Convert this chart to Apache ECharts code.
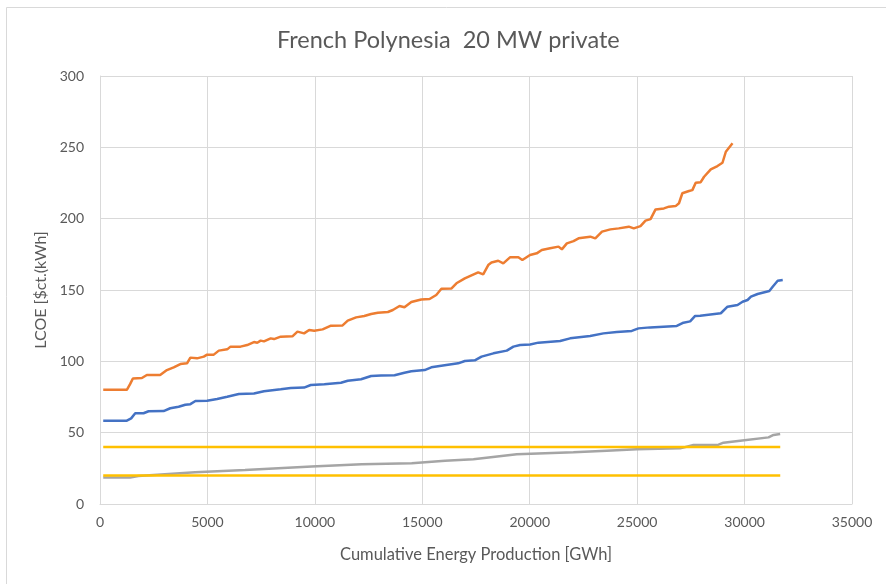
<!DOCTYPE html>
<html>
<head>
<meta charset="utf-8">
<script src="https://cdn.jsdelivr.net/npm/echarts@6/dist/echarts.min.js"></script>
<style>
  html, body { margin: 0; padding: 0; background: #fff; }
  #main { width: 886px; height: 584px; }
</style>
</head>
<body>
<div id="main"></div>
<script>
// values: [GWh, $ct/kWh]
var orangeData = [[150,80],[1250,80],[1400,84],[1530,88],[1950,88.3],[2180,90.4],[2800,90.4],[3115,93.9],[3430,95.8],[3740,98.1],[4050,98.6],[4206,102.6],[4517,102.1],[4830,103.3],[4985,104.7],[5296,104.7],[5530,107.5],[5920,108.4],[6075,110.3],[6540,110.3],[6850,111.4],[7165,113.5],[7320,113],[7477,114.5],[7630,114],[7944,116.1],[8100,115.6],[8410,117.3],[8956,117.5],[9190,120.8],[9500,119.6],[9735,122],[9970,121.5],[10360,122.4],[10750,125],[11290,125.2],[11530,128.5],[11920,130.8],[12300,131.8],[12620,133.2],[12930,134.1],[13400,134.6],[13630,136],[13940,138.8],[14170,137.9],[14490,141.6],[14950,143.4],[15340,143.7],[15650,146.5],[15890,150.9],[16350,151],[16590,154.7],[16980,158.2],[17600,162.4],[17835,161],[18070,167.5],[18220,169.3],[18536,170.5],[18769,168.7],[19081,172.9],[19470,172.9],[19657,171],[20015,174.5],[20327,175.7],[20561,178],[20950,179.2],[21340,180.4],[21495,178.5],[21729,182.7],[22040,184.3],[22274,186.2],[22819,187.4],[23053,186.2],[23364,190.9],[23754,192.5],[24143,193.2],[24611,194.4],[24844,193.2],[25156,194.8],[25389,198.6],[25623,199.7],[25857,206.5],[26246,207.2],[26480,208.4],[26791,208.8],[26947,210.8],[27103,217.8],[27414,219.4],[27570,220],[27726,225.2],[27959,225.6],[28115,229.4],[28427,234.6],[28738,236.9],[28972,239.2],[29128,246.9],[29439,252.8]];
var blueData = [[150,58.4],[1250,58.4],[1450,60],[1640,63.6],[2025,63.6],[2260,65],[2960,65.1],[3270,67.1],[3660,68.2],[3970,69.6],[4206,70],[4440,72.2],[4985,72.4],[5450,73.6],[5920,75.2],[6460,77.1],[7165,77.4],[7630,79],[8410,80.4],[8880,81.3],[9500,81.6],[9810,83.4],[10440,83.9],[11215,85],[11530,86.4],[12150,87.4],[12620,89.7],[13080,90],[13710,90.3],[14170,92],[14490,93],[15110,93.9],[15420,95.8],[16040,97.2],[16670,98.6],[16980,100.2],[17445,100.7],[17757,103.3],[18311,105.6],[18932,107.5],[19242,110.3],[19553,111.4],[20019,111.8],[20405,113.1],[21415,114.2],[21881,116.1],[22812,117.8],[23432,119.6],[24053,120.6],[24751,121.3],[25062,123.1],[25605,123.8],[26846,124.8],[27157,127.1],[27467,128],[27700,131.8],[27933,132],[28894,133.7],[29206,138.3],[29673,139.5],[29907,141.8],[30140,143],[30296,145.3],[30607,147.2],[31153,149.3],[31308,152.3],[31542,156.5],[31776,157]];
var grayData = [[150,18.5],[1400,18.5],[1784,19.6],[4423,22.2],[6750,23.8],[9855,26.2],[12183,27.8],[14510,28.5],[16061,30.4],[17379,31.3],[19398,34.8],[22033,36.2],[23585,37.4],[24982,38.3],[27001,39],[27622,41.4],[28786,41.6],[29019,43],[29795,44.4],[31114,46.7],[31347,48.4],[31657,49.1]];
var upperRefData = [[150,40],[31660,40]];
var lowerRefData = [[150,20],[31660,20]];

var chartDom = document.getElementById('main');
var myChart = echarts.init(chartDom);
var font = 'Lato, Open Sans, sans-serif';

function line(data, color) {
  return {
    type: 'line',
    data: data,
    showSymbol: false,
    symbol: 'none',
    animation: false,
    lineStyle: { color: color, width: 2.5 },
    itemStyle: { color: color }
  };
}

var option = {
  backgroundColor: '#FFF',
  animation: false,
  title: {
    text: 'French Polynesia  20 MW private',
    left: 272,
    top: 23,
    textStyle: { fontFamily: font, fontSize: 23.5, fontWeight: 'normal', color: '#595959' }
  },
  graphic: [{
    type: 'rect',
    shape: { x: 6.5, y: 7.5, width: 880, height: 580 },
    style: { fill: 'none', stroke: '#D9D9D9', lineWidth: 1 },
    silent: true
  }],
  grid: { left: 100, right: 34, top: 76, bottom: 80 },
  xAxis: {
    type: 'value',
    min: 0,
    max: 35000,
    interval: 5000,
    name: 'Cumulative Energy Production [GWh]',
    nameLocation: 'middle',
    nameGap: 42,
    nameTextStyle: { fontFamily: font, fontSize: 16.5, color: '#595959' },
    axisLine: { show: true, lineStyle: { color: '#D9D9D9' } },
    axisTick: { show: false },
    axisLabel: { fontFamily: font, fontSize: 14, color: '#595959', margin: 11, formatter: function (v) { return String(v); } },
    splitLine: { show: true, lineStyle: { color: '#D9D9D9' } }
  },
  yAxis: {
    type: 'value',
    min: 0,
    max: 300,
    interval: 50,
    name: 'LCOE [$ct.(kWh]',
    nameLocation: 'middle',
    nameGap: 50,
    nameTextStyle: { fontFamily: font, fontSize: 16, color: '#595959' },
    axisLine: { show: true, lineStyle: { color: '#D9D9D9' } },
    axisTick: { show: false },
    axisLabel: { fontFamily: font, fontSize: 14, color: '#595959', margin: 16 },
    splitLine: { show: true, lineStyle: { color: '#D9D9D9' } }
  },
  series: [
    line(grayData, '#A5A5A5'),
    line(upperRefData, '#FFC000'),
    line(lowerRefData, '#FFC000'),
    line(blueData, '#4472C4'),
    line(orangeData, '#ED7D31')
  ]
};
option && myChart.setOption(option);
</script>
</body>
</html>
